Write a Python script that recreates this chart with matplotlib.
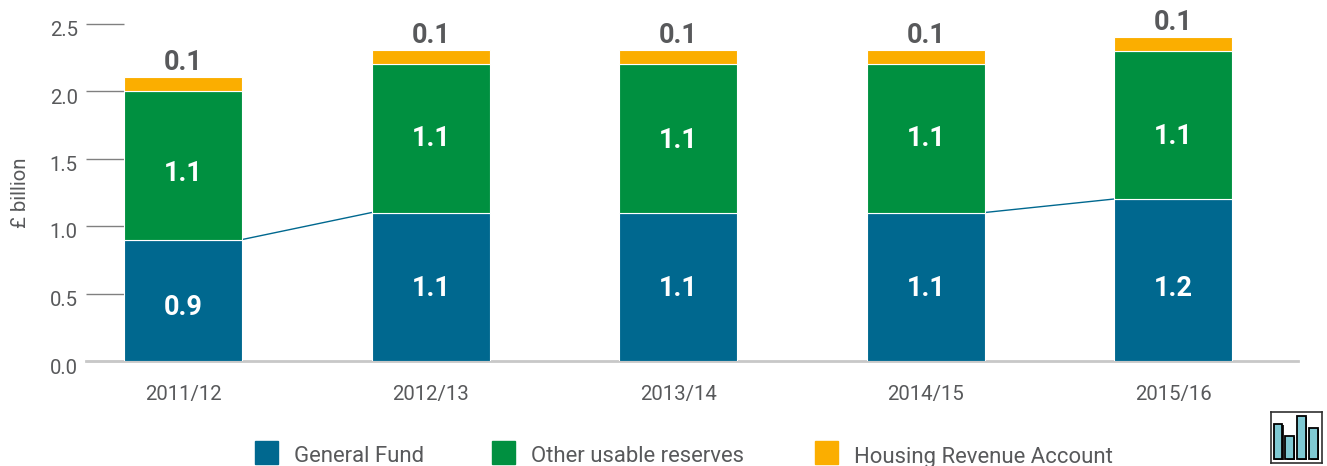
import matplotlib
matplotlib.use('Agg')
import matplotlib.pyplot as plt
from matplotlib.patches import Rectangle
from matplotlib.transforms import ScaledTranslation

plt.rcParams['font.family'] = ['Roboto', 'DejaVu Sans']

years = ['2011/12', '2012/13', '2013/14', '2014/15', '2015/16']
general_fund = [0.9, 1.1, 1.1, 1.1, 1.2]
other_reserves = [1.1, 1.1, 1.1, 1.1, 1.1]
housing = [0.1, 0.1, 0.1, 0.1, 0.1]
yticks = [0.0, 0.5, 1.0, 1.5, 2.0, 2.5]
icon_heights = [105, 70, 130, 93]

BLUE = '#00688f'
GREEN = '#009040'
ORANGE = '#fbae00'
GREY = '#58595b'

# labels in the original are not quite centred, nudges in pixels (downwards)
blue_nudge = [7, 2, 2, 2, 8]
green_nudge = [8, 0, 2, 0, 12]

fig = plt.figure(figsize=(13.27, 4.66), dpi=100)
# axes spans x 86-1298 px, y 361 (0.0) up to 23.5 (2.5)
ax = fig.add_axes([86 / 1327, 1 - 361 / 466, (1298 - 86) / 1327, (361 - 23.5) / 466])

x = list(range(len(years)))
width = 0.477
bottom2 = general_fund
bottom3 = [a + b for a, b in zip(general_fund, other_reserves)]
ax.bar(x, general_fund, width, color=BLUE, edgecolor='white', linewidth=0.8, zorder=3)
ax.bar(x, other_reserves, width, bottom=bottom2, color=GREEN, edgecolor='white', linewidth=0.8, zorder=3)
ax.bar(x, housing, width, bottom=bottom3, color=ORANGE, edgecolor='white', linewidth=0.8, zorder=3)

# thin connector lines, only where the general fund changes
for i in range(len(x) - 1):
    if general_fund[i] != general_fund[i + 1]:
        ax.plot([x[i] + width / 2, x[i + 1] - width / 2], [general_fund[i], general_fund[i + 1]],
                color=BLUE, linewidth=1, zorder=2)

px = 72 / 100  # one pixel in points
for i in x:
    ax.annotate(f'{general_fund[i]:.1f}', (i, general_fund[i] / 2), xytext=(0, -blue_nudge[i] * px),
                textcoords='offset points', color='white', fontsize=19.5, fontweight='bold',
                ha='center', va='center', zorder=4)
    ax.annotate(f'{other_reserves[i]:.1f}', (i, bottom2[i] + other_reserves[i] / 2), xytext=(0, -green_nudge[i] * px),
                textcoords='offset points', color='white', fontsize=19.5, fontweight='bold',
                ha='center', va='center', zorder=4)
    ax.annotate(f'{housing[i]:.1f}', (i, bottom3[i] + housing[i]), xytext=(0, 15 * px),
                textcoords='offset points', color=GREY, fontsize=19.5, fontweight='bold',
                ha='center', va='center', zorder=4)

ax.set_xlim(-0.393, 4.504)
ax.set_ylim(0, 2.5)
ax.set_xticks(x)
ax.set_xticklabels(years, fontsize=14.7, color=GREY)
ax.set_yticks(yticks)
ax.set_yticklabels([f'{v:.1f}' for v in yticks], fontsize=14.7, color=GREY)
ax.tick_params(axis='x', length=0, pad=17)
ax.tick_params(axis='y', length=27, width=1, color='#808080', direction='in', pad=6)
ax.yaxis.get_major_ticks()[-1].tick1line.set_color('#404040')
# y labels sit a few pixels below their tick
shift = ScaledTranslation(0, -5 / 100, fig.dpi_scale_trans)
for lab in ax.get_yticklabels():
    lab.set_transform(lab.get_transform() + shift)
ax.set_ylabel('£ billion', fontsize=14.7, color=GREY)
ax.yaxis.set_label_coords((30 - 86) / (1298 - 86), 0.5, transform=ax.transAxes)
for s in ['top', 'right', 'left']:
    ax.spines[s].set_visible(False)
ax.spines['bottom'].set_color('#c8c8c8')
ax.spines['bottom'].set_linewidth(2)

# legend drawn by hand in figure coordinates to keep the wide spacing
legend_items = [('General Fund', BLUE, 255), ('Other usable reserves', GREEN, 492), ('Housing Revenue Account', ORANGE, 815)]
for label, color, lx in legend_items:
    fig.patches.append(Rectangle((lx / 1327, 1 - 464 / 466), 23 / 1327, 23 / 466, transform=fig.transFigure, color=color))
    fig.text((lx + 39) / 1327, 1 - 457 / 466, label, fontsize=15.9, color=GREY, va='center')

# small bar chart icon, bottom right
icon = fig.add_axes([1271 / 1327, 1 - 463 / 466, 51 / 1327, 51 / 466])
ix = list(range(len(icon_heights)))
icon.bar([v + 0.12 for v in ix], icon_heights, 0.72, bottom=-3, color='#222222', linewidth=0)
icon.bar(ix, icon_heights, 0.72, color='#7fc9d3', edgecolor='black', linewidth=1.3)
icon.set_xlim(-0.57, 3.71)
icon.set_ylim(-12, 141)
icon.set_xticks([])
icon.set_yticks([])
for s in icon.spines.values():
    s.set_linewidth(1.2)
    s.set_color('#303030')

fig.savefig('out.png', dpi=100)
